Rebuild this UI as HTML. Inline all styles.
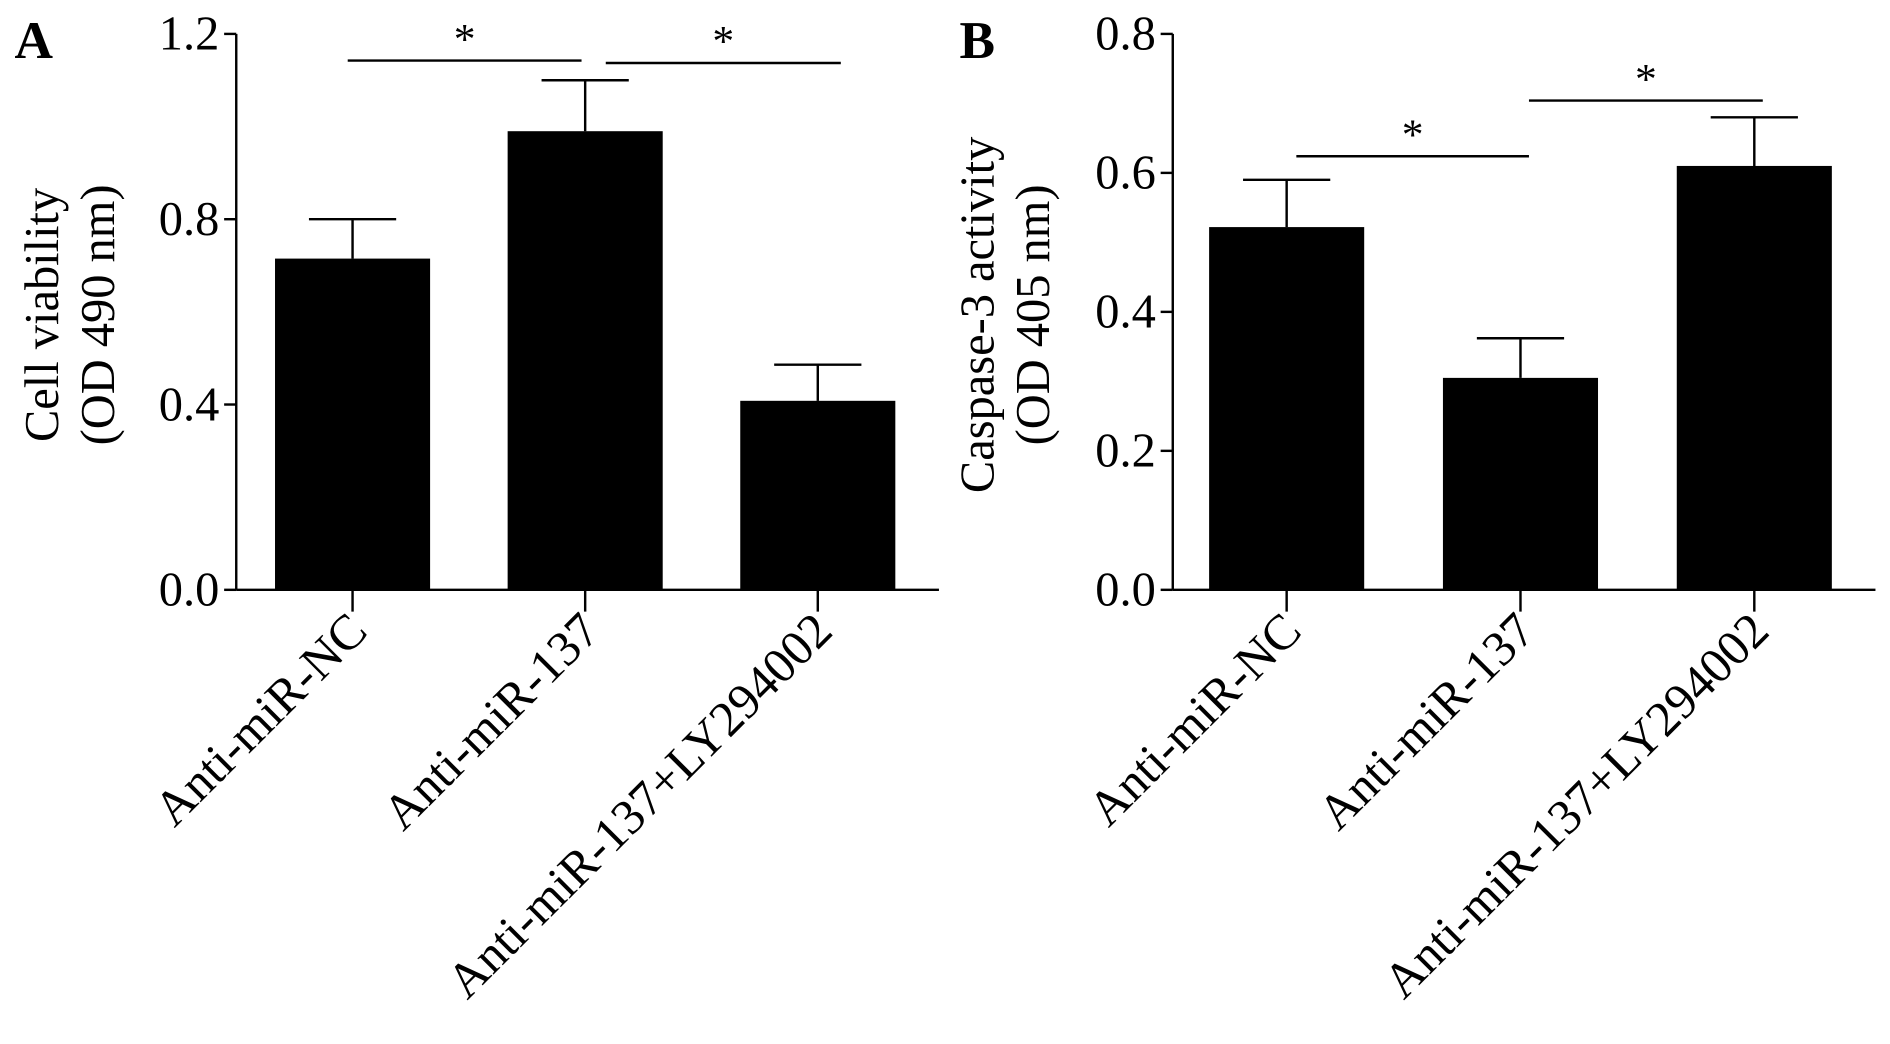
<!DOCTYPE html>
<html><head><meta charset="utf-8"><style>
html,body{margin:0;padding:0;background:#fff;}
svg{display:block;font-family:"Liberation Serif",serif;}
</style></head><body>
<svg id="fig" width="1890" height="1044" viewBox="0 0 1560 862" preserveAspectRatio="none"></svg>
<script>
const categories = ["Anti-miR-NC","Anti-miR-137","Anti-miR-137+LY294002"];
const viabilityValues = [0.715, 0.99, 0.408];
const viabilityErrors = [0.085, 0.11, 0.078];
const viabilityTicks = ["0.0","0.4","0.8","1.2"];
const caspaseValues = [0.522, 0.305, 0.61];
const caspaseErrors = [0.068, 0.057, 0.07];
const caspaseTicks = ["0.0","0.2","0.4","0.6","0.8"];

const NS="http://www.w3.org/2000/svg";
const svg=document.getElementById('fig');
function mk(tag,attrs,parent,text){const e=document.createElementNS(NS,tag);for(const k in attrs)e.setAttribute(k,attrs[k]);if(text!==undefined)e.textContent=text;(parent||svg).appendChild(e);return e;}

function panel(o){
  const g=mk('g',{});
  
  
  const y=v=>o.y0-(v/o.ymax)*(o.y0-o.ytop);
  const xc=i=>o.x0+o.firstCenter+i*o.step;
  const L=mk('text',{x:o.letterX,y:48,'font-size':44,'font-weight':'bold'},g,o.letter);
  
  
  const ya=mk('line',{x1:o.x0,y1:o.ytop,x2:o.x0,y2:o.y0,stroke:'#000','stroke-width':2},g);
  
  
  const xa=mk('line',{x1:o.x0,y1:o.y0,x2:o.xend,y2:o.y0,stroke:'#000','stroke-width':2},g);
  
  
  o.ticks.forEach(t=>{
    const v=parseFloat(t),yy=y(v);
    mk('line',{x1:o.x0-10,y1:yy,x2:o.x0,y2:yy,stroke:'#000','stroke-width':2},g);
    const tl=mk('text',{x:o.x0-14,y:yy+13,'font-size':40,'text-anchor':'end'},g,t);
    
    
  });
  const tg=mk('text',{transform:`translate(${o.titleX},${o.titleY}) rotate(-90)`,'font-size':40,'text-anchor':'middle'},g);
  
  
  mk('tspan',{x:0,y:0},tg,o.title1);
  mk('tspan',{x:0,y:46},tg,o.title2);
  categories.forEach((c,i)=>{
    const cx=xc(i),top=y(o.vals[i]),et=y(o.vals[i]+o.errs[i]);
    const b=mk('rect',{x:cx-64,y:top,width:128,height:o.y0-top,fill:'#000'},g);
    
    
    const eb=mk('path',{d:`M${cx},${top} V${et} M${cx-36},${et} H${cx+36}`,stroke:'#000','stroke-width':2,fill:'none'},g);
    
    
    mk('line',{x1:cx,y1:o.y0,x2:cx,y2:o.y0+18,stroke:'#000','stroke-width':2},g);
    const xl=mk('text',{transform:`translate(${cx+14},${o.y0+36}) rotate(-45)`,'font-size':41,'text-anchor':'end'},g,c);
    
    
  });
  o.sig.forEach(s=>{
    const sl=mk('line',{x1:s[0],y1:s[2],x2:s[1],y2:s[2],stroke:'#000','stroke-width':2},g);
    
    
    const st=mk('text',{x:(s[0]+s[1])/2,y:s[2]-6,'font-size':36,'text-anchor':'middle'},g,'*');
    
    
  });
}
panel({name:'panel-a-cell-viability',letter:'A',letterX:12,x0:195,xend:775,y0:487,ytop:28,ymax:1.2,firstCenter:96,step:192,
  ticks:viabilityTicks,vals:viabilityValues,errs:viabilityErrors,title1:'Cell viability',title2:'(OD 490 nm)',titleX:48,titleY:260,
  sig:[[287,480,50],[500,694,52]]});
panel({name:'panel-b-caspase-3',letter:'B',letterX:792,x0:968,xend:1548,y0:487,ytop:28,ymax:0.8,firstCenter:94,step:193,
  ticks:caspaseTicks,vals:caspaseValues,errs:caspaseErrors,title1:'Caspase-3 activity',title2:'(OD 405 nm)',titleX:820,titleY:260,
  sig:[[1070,1262,129],[1262,1455,83]]});
</script>
</body></html>
